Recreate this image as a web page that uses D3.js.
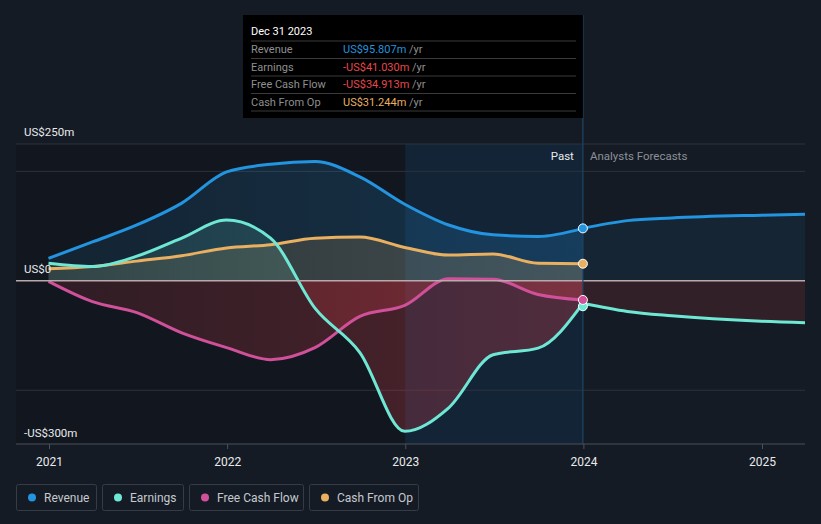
<!DOCTYPE html>
<html><head><meta charset="utf-8">
<script src="https://cdn.jsdelivr.net/npm/d3@7"></script>
<style>
html,body{margin:0;padding:0;background:#151b24;}
svg{display:block;font-family:Roboto,"Noto Sans",sans-serif;}
</style></head>
<body>
<svg id="c" width="821" height="524"></svg>
<script>
// ---- data ----
const pastDates = ["2020-12-31","2021-03-31","2021-06-30","2021-09-30","2021-12-31","2022-03-31","2022-06-30","2022-09-30","2022-12-31","2023-03-31","2023-06-30","2023-09-30","2023-12-31"];
const revenuePast  = [41, 71, 102, 142, 199, 213, 218, 190, 140, 102, 84, 81, 95.807];
const earningsPast = [32, 26, 45, 78, 111, 78, -50, -131, -275, -232, -135, -123, -41.03];
const fcfPast      = [-1, -38, -58, -95, -122, -144, -122, -65, -45, 4, 3, -25, -34.913];
const cfoPast      = [22, 26, 36, 46, 60, 66, 78, 80, 61, 47, 49, 32, 31.244];
const forecastDates = ["2023-12-31","2024-03-31","2024-06-30","2024-12-31","2025-06-30"];
const revenueFc  = [95.807, 110, 115, 120, 123];
const earningsFc = [-41.03, -56, -64, -74, -78];
const yTicks = [250, 0, -300];
const yTickLabels = ["US$250m", "US$0", "-US$300m"];
const gridValues = [250, 200, -200];
const xTickYears = [2021, 2022, 2023, 2024, 2025];
const seriesNames = ["Revenue", "Earnings", "Free Cash Flow", "Cash From Op"];
const seriesColors = ["#2394df", "#6ee7d4", "#d1509a", "#e8b060"];
const tooltipTitle = "Dec 31 2023";
const tooltipValues = ["US$95.807m", "-US$41.030m", "-US$34.913m", "US$31.244m"];
const tooltipValueColors = ["#2394df", "#e5484d", "#e5484d", "#e8b060"];

// ---- setup ----
const svg = d3.select("#c");
const W = 821, H = 524;
const pL = 16, pR = 805, pT = 144, pB = 444;
const parse = d3.timeParse("%Y-%m-%d");
const x = d3.scaleTime().domain([new Date(2021,0,1), new Date(2025,0,1)]).range([49, 762]);
const y = d3.scaleLinear().domain([-300, 250]).range([445, 144]);
const nowX = x(parse("2023-12-31"));
const hlX = x(new Date(2023,0,1));

const defs = svg.append("defs");
defs.append("clipPath").attr("id","plot").append("rect").attr("x",pL).attr("y",0).attr("width",pR-pL).attr("height",pB);
defs.append("clipPath").attr("id","pos").append("rect").attr("x",0).attr("y",0).attr("width",W).attr("height",y(0));
defs.append("clipPath").attr("id","neg").append("rect").attr("x",0).attr("y",y(0)).attr("width",W).attr("height",H);

function grad(id, color, o1, o2, x1, x2){
  const g = defs.append("linearGradient").attr("id",id).attr("gradientUnits","userSpaceOnUse")
    .attr("x1",x1).attr("x2",x2).attr("y1",0).attr("y2",0);
  g.append("stop").attr("offset",0).attr("stop-color",color).attr("stop-opacity",o1);
  g.append("stop").attr("offset",1).attr("stop-color",color).attr("stop-opacity",o2);
}
seriesColors.forEach((c,i)=>grad("gp"+i, c, 0.10, 0.22, x(parse(pastDates[0])), nowX));
grad("gneg", "#e0404a", 0.14, 0.30, x(parse(pastDates[0])), nowX);

// backgrounds
svg.append("rect").attr("x",pL).attr("y",pT).attr("width",hlX-pL).attr("height",pB-pT).attr("fill","rgba(0,0,0,0.12)");
svg.append("rect").attr("x",hlX).attr("y",pT).attr("width",nowX-hlX).attr("height",pB-pT).attr("fill","rgba(15,60,100,0.3)");

// grid
svg.append("g").selectAll("line").data(gridValues).join("line")
  .attr("x1",pL).attr("x2",pR).attr("y1",d=>y(d)).attr("y2",d=>y(d))
  .attr("stroke","#2b323c").attr("stroke-width",1);

const plot = svg.append("g").attr("clip-path","url(#plot)");
const curve = d3.curveMonotoneX;
const mk = (dates, vals) => dates.map((d,i)=>({t:parse(d), v:vals[i]}));

const pastSeries = [revenuePast, earningsPast, fcfPast, cfoPast].map(v=>mk(pastDates, v));
const fcSeries = [mk(forecastDates, revenueFc), mk(forecastDates, earningsFc)];

const area = d3.area().curve(curve).x(d=>x(d.t)).y0(y(0)).y1(d=>y(d.v));
const line = d3.line().curve(curve).x(d=>x(d.t)).y(d=>y(d.v));

// forecast fills
fcSeries.forEach((s,i)=>{
  plot.append("path").attr("d",area(s)).attr("clip-path","url(#pos)").attr("fill",seriesColors[i]).attr("fill-opacity",0.09);
  plot.append("path").attr("d",area(s)).attr("clip-path","url(#neg)").attr("fill","#e0404a").attr("fill-opacity",0.15);
});
// past fills
pastSeries.forEach((s,i)=>{
  plot.append("path").attr("d",area(s)).attr("clip-path","url(#pos)").attr("fill","url(#gp"+i+")");
  plot.append("path").attr("d",area(s)).attr("clip-path","url(#neg)").attr("fill","url(#gneg)");
});

// zero line
svg.append("line").attr("x1",pL).attr("x2",pR).attr("y1",y(0)).attr("y2",y(0)).attr("stroke","#b9a9ab").attr("stroke-width",1.5);

// lines: forecast then past
fcSeries.forEach((s,i)=>{
  plot.append("path").attr("d",line(s)).attr("fill","none").attr("stroke",seriesColors[i]).attr("stroke-width",3);
});
[3,2,1,0].forEach(i=>{
  plot.append("path").attr("d",line(pastSeries[i])).attr("fill","none").attr("stroke",seriesColors[i]).attr("stroke-width",3);
});

// now line
svg.append("line").attr("x1",nowX).attr("x2",nowX).attr("y1",15).attr("y2",pB).attr("stroke","#1f4664").attr("stroke-width",1.2);

// points
[1,0,3,2].forEach(i=>{
  const s = pastSeries[i], d = s[s.length-1];
  svg.append("circle").attr("cx",x(d.t)).attr("cy",y(d.v)+(i===1?3:0)).attr("r",4.5)
    .attr("fill",seriesColors[i]).attr("stroke","#ffffff").attr("stroke-width",1);
});

// x axis
svg.append("line").attr("x1",pL).attr("x2",pR).attr("y1",pB).attr("y2",pB).attr("stroke","#4a515b").attr("stroke-width",1);
const xa = svg.append("g").attr("transform",`translate(0,${pB})`)
  .call(d3.axisBottom(x).tickValues(xTickYears.map(yy=>new Date(yy,0,1))).tickFormat(d3.timeFormat("%Y")).tickSize(5).tickPadding(8));
xa.select(".domain").remove();
xa.selectAll(".tick line").attr("stroke","#4a515b");
xa.selectAll(".tick text").attr("fill","#e8eaec").attr("font-size",12).attr("font-family","Roboto, sans-serif");

// y labels
svg.append("g").selectAll("text").data(yTicks).join("text")
  .attr("x",24).attr("y",d=>y(d)-8).attr("fill","#e8eaec").attr("font-size",11.5)
  .text((d,i)=>yTickLabels[i]);

// Past / Forecast labels
svg.append("text").attr("x",nowX-9).attr("y",160).attr("text-anchor","end").attr("fill","#e8eaec").attr("font-size",11.5).text("Past");
svg.append("text").attr("x",nowX+7).attr("y",160).attr("fill","#8b9098").attr("font-size",11.5).text("Analysts Forecasts");

// tooltip
const tt = svg.append("g");
tt.append("rect").attr("x",243).attr("y",15).attr("width",nowX-243).attr("height",103).attr("fill","#000");
tt.append("text").attr("x",251).attr("y",35).attr("fill","#fff").attr("font-size",11).text(tooltipTitle);
const sepY = [41, 58.5, 76, 93.5, 111];
tt.selectAll("line").data(sepY).join("line").attr("x1",251).attr("x2",576).attr("y1",d=>d).attr("y2",d=>d).attr("stroke","#3a3a3a").attr("stroke-width",1);
seriesNames.forEach((n,i)=>{
  const yy = 53 + i*17.5;
  tt.append("text").attr("x",251).attr("y",yy).attr("fill","#8f8f8f").attr("font-size",11).text(n);
  const t = tt.append("text").attr("x",343).attr("y",yy).attr("font-size",11);
  t.append("tspan").attr("fill",tooltipValueColors[i]).text(tooltipValues[i]);
  t.append("tspan").attr("fill","#8f8f8f").text(" /yr");
});

// legend
const legW = [81, 82, 115, 110];
let lx = 16;
seriesNames.forEach((n,i)=>{
  const g = svg.append("g").attr("transform",`translate(${lx},484)`);
  g.append("rect").attr("x",0.5).attr("y",0.5).attr("width",legW[i]-1).attr("height",26).attr("rx",2)
    .attr("fill","none").attr("stroke","#363c46");
  g.append("circle").attr("cx",16).attr("cy",13.5).attr("r",4).attr("fill",seriesColors[i]);
  g.append("text").attr("x",28).attr("y",17.5).attr("fill","#c5c9cf").attr("font-size",12).text(n);
  lx += legW[i] + 5;
});
</script>
</body></html>
